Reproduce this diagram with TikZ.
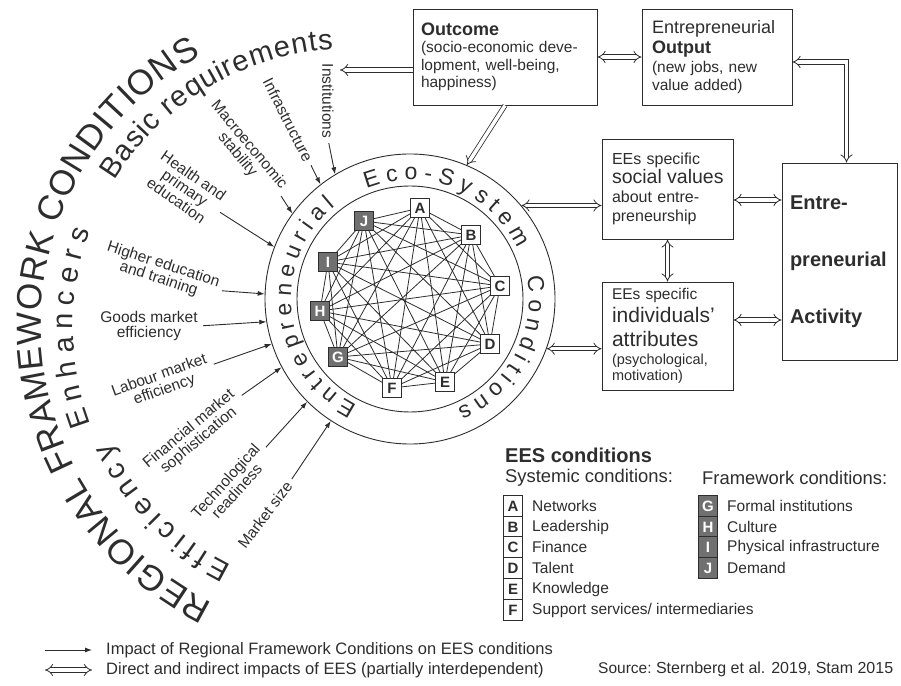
\documentclass[tikz,border=0pt]{standalone}
\usepackage{fontspec}
\setmainfont{Liberation Sans}
\usetikzlibrary{positioning, calc, arrows.meta, decorations.text, backgrounds}

\definecolor{ink}{RGB}{45,45,45}
\definecolor{shade}{RGB}{112,112,112}

\newcommand{\fsize}[2]{\fontsize{#1}{#2}\selectfont}
\newcommand{\ringfont}{\fontsize{23}{23}\selectfont}
\newcommand{\bigarcfont}{\fontsize{35}{35}\selectfont}
\newcommand{\midarcfont}{\fontsize{29}{29}\selectfont}

\begin{document}
\begin{tikzpicture}[x=1pt, y=1pt]
	\tikzset{impact/.style={-{Latex[length=7pt,width=5pt]}, draw=ink, line width=0.9pt}}
	\tikzset{twoway/.style={{Implies[scale=1.4]}-{Implies[scale=1.4]}, draw=ink, double, double distance=3.5pt, line width=0.8pt}}
	\tikzset{oneway/.style={-{Implies[scale=1.4]}, draw=ink, double, double distance=3.5pt, line width=0.8pt}}
	\tikzset{panel/.style={draw=ink, line width=0.9pt, align=left, text=ink, inner ysep=0pt}}
	\tikzset{factor/.style={text=ink, align=center, inner sep=1pt, font=\fsize{15.5}{15}}}
	\tikzset{sysnode/.style={draw=ink, fill=white, line width=1pt, minimum size=19pt, inner sep=0pt, text=ink, font=\bfseries\fsize{15}{15}}}
	\tikzset{fwnode/.style={sysnode, fill=shade, text=white}}
	\tikzset{web/.style={draw=ink, line width=0.8pt}}
	\tikzset{keytext/.style={anchor=west, text=ink, inner sep=0pt, font=\fsize{15.5}{15.5}}}
	\tikzset{arctext/.style={decorate, decoration={text along path, text align={fit to path}, text={#1}}}}

	\useasboundingbox (0,0) rectangle (901,685);

	% eco-system rings
	\node[circle, draw=ink, line width=0.9pt, minimum size=290pt, inner sep=0pt] (ring) at (410,386) {};
	\node[circle, draw=ink, line width=0.9pt, minimum size=226pt, inner sep=0pt] (core) at (ring.center) {};

	\path[arctext={|\color{ink}\ringfont|Entrepreneurial}] (ring.center) ++(243.5:119) arc[start angle=243.5, end angle=129, radius=119];
	\path[arctext={|\color{ink}\ringfont|Eco-System}] (ring.center) ++(111.5:119) arc[start angle=111.5, end angle=25, radius=119];
	\path[arctext={|\color{ink}\ringfont|Conditions}] (ring.center) ++(10.7:119) arc[start angle=10.7, end angle=-66.6, radius=119];

	% conditions A-J
	\foreach \n/\x/\y/\s in {A/420/477/sysnode, B/471/450/sysnode, C/500/399/sysnode, D/490/341/sysnode, E/445/303/sysnode,
		F/392/297/sysnode, G/338/328/fwnode, H/320/374/fwnode, I/328/423/fwnode, J/364/464/fwnode}
		\node[\s] (c\n) at (\x,\y) {\n};

	\begin{scope}[on background layer]
		\foreach \a [count=\i] in {A,B,C,D,E,F,G,H,I,J}
		{
			\foreach \b [count=\j] in {A,B,C,D,E,F,G,H,I,J}
			{ \ifnum\j>\i \draw[web] (c\a) -- (c\b); \fi }
		}
	\end{scope}

	% regional framework conditions
	\coordinate (rfc) at (350,359);
	\path[arctext={|\color{ink}\bigarcfont|REGIONAL FRAMEWORK CONDITIONS}] (rfc) ++(243.7:309) arc[start angle=243.7, end angle=118.8, radius=309];
	\path[arctext={|\color{ink}\midarcfont|Basic requirements}] (rfc) ++(148.3:277) arc[start angle=148.3, end angle=93.5, radius=277];
	\path[arctext={|\color{ink}\midarcfont|Enhancers}] (rfc) ++(200.8:277) arc[start angle=200.8, end angle=160, radius=277];
	\path[arctext={|\color{ink}\midarcfont|Efficiency}] (rfc) ++(243.7:267) arc[start angle=243.7, end angle=206, radius=267];

	\node[factor, rotate=-90] (inst) at (328,584) {Institutions};
	\node[factor, rotate=-63] (infra) at (288,565) {Infrastructure};
	\node[factor, rotate=-50] (macro) at (243,535) {Macroeconomic\\stability};
	\node[factor, rotate=-35] (health) at (185,497) {Health and\\primary\\education};
	\node[factor, rotate=-18] (higher) at (161,413) {Higher education\\and training};
	\node[factor] (goods) at (149,359) {Goods market\\efficiency};
	\node[factor, rotate=20] (labour) at (162,302) {Labour market\\efficiency};
	\node[factor, rotate=40] (finance) at (194,250) {Financial market\\sophistication};
	\node[factor, rotate=48] (techno) at (231,199) {Technological\\readiness};
	\node[factor, rotate=53] (msize) at (265,170) {Market size};

	\foreach \f/\a in {inst/121, infra/128, macro/144, health/159, higher/178, goods/189, labour/198, finance/208, techno/225, msize/237}
		\draw[impact, shorten <=4pt] (\f.east) -- (ring.\a);

	% boxes on the right
	\node[panel, text width=168pt, inner xsep=8pt, minimum height=96pt, font=\fsize{15.5}{17.5}] (outcome) at (505,628)
		{{\bfseries\fsize{18}{17.5}Outcome}\\(socio-economic deve-\\lopment, well-being,\\happiness)};
	\node[panel, text width=130pt, inner xsep=10pt, minimum height=96pt, font=\fsize{15.5}{17.5}] (output) at (717,628)
		{{\fsize{18}{17.5}Entrepreneurial}\\[2pt]{\bfseries\fsize{18}{17.5}Output}\\[2pt](new jobs, new\\value added)};
	\node[panel, text width=119pt, inner xsep=6pt, minimum height=100pt, font=\fsize{16}{19}] (social) at (667.5,496)
		{\hspace*{4pt}EEs specific\\\hspace*{4pt}{\fsize{19.5}{19}social values}\\\hspace*{4pt}about entre-\\\hspace*{4pt}preneurship};
	\node[panel, text width=119pt, inner xsep=6pt, minimum height=108pt, font=\fsize{15.5}{17}] (indiv) at (667.5,349)
		{\hspace*{4pt}EEs specific\\[3pt]\hspace*{4pt}{\fsize{21}{17}individuals'}\\[7pt]\hspace*{4pt}{\fsize{21}{17}attributes}\\[1pt]\hspace*{4pt}{\fsize{14.5}{17}(psychological,}\\[-1pt]\hspace*{4pt}{\fsize{14.5}{17}motivation)}};
	\node[panel, text width=99pt, inner xsep=8pt, minimum height=197pt, font=\bfseries\fsize{20}{57}] (act) at (839.5,423.5)
		{Entre-\\preneurial\\Activity};

	\coordinate (basic) at (340,615);
	\draw[twoway] (outcome) -- (output);
	\draw[oneway] ([yshift=-13pt]outcome.west) -- (basic);
	\draw[oneway] (outcome.south) -- (ring.67);
	\draw[twoway] ([yshift=-5pt]output.east) -| ([xshift=7pt]act.north);
	\draw[twoway] (ring.40) -- (ring.40 -| social.west);
	\draw[twoway] (ring.340) -- (ring.340 -| indiv.west);
	\draw[twoway] ([yshift=-11pt]social.east) -- ([yshift=-11pt]social.east -| act.west);
	\draw[twoway] ([yshift=16pt]indiv.east) -- ([yshift=16pt]indiv.east -| act.west);
	\draw[twoway] (social) -- (indiv);

	% key
	\node[keytext, font=\bfseries\fsize{20}{20}] (eestitle) at (505,230) {EES conditions};
	\node[keytext, font=\fsize{18.4}{18}] (systitle) at (505,207) {Systemic conditions:};
	\node[keytext, font=\fsize{18.4}{18}] (fwtitle) at (702,207) {Framework conditions:};
	\foreach \n/\y/\t in {A/179/Networks, B/158/Leadership, C/138/Finance, D/117/Talent, E/96/Knowledge}
	{
		\node[sysnode, minimum height=20.8pt] (k\n) at (513,\y) {\n};
		\node[keytext, right=9pt of k\n] (t\n) {\t};
	}
	\node[sysnode, minimum height=20.8pt] (kF) at (513,75) {F};
	\node[keytext, right=9pt of kF] (tF) {Support services/ intermediaries};
	\foreach \n/\y/\t in {G/179/Formal institutions, H/158/Culture, I/138/Physical infrastructure, J/117/Demand}
	{
		\node[fwnode, minimum height=20.8pt] (k\n) at (708,\y) {\n};
		\node[keytext, right=9pt of k\n] (t\n) {\t};
	}

	% legend
	\coordinate (imA) at (45,35);
	\coordinate (imB) at (92,35);
	\draw[impact] (imA) -- (imB);
	\node[keytext, font=\fsize{16.5}{16.5}] (imtext) at (106,35) {Impact of Regional Framework Conditions on EES conditions};
	\coordinate (dirA) at (45,15);
	\coordinate (dirB) at (92,15);
	\draw[twoway] (dirA) -- (dirB);
	\node[keytext, font=\fsize{16.5}{16.5}] (dirtext) at (106,15) {Direct and indirect impacts of EES (partially interdependent)};
	\node[keytext] (srclabel) at (598,17) {Source:};
	\node[anchor=base west, text=ink, inner sep=0pt, font=\fsize{16}{16}] (srctext) at ([xshift=4pt]srclabel.base east) {Sternberg et al. 2019, Stam 2015};
\end{tikzpicture}
\end{document}
